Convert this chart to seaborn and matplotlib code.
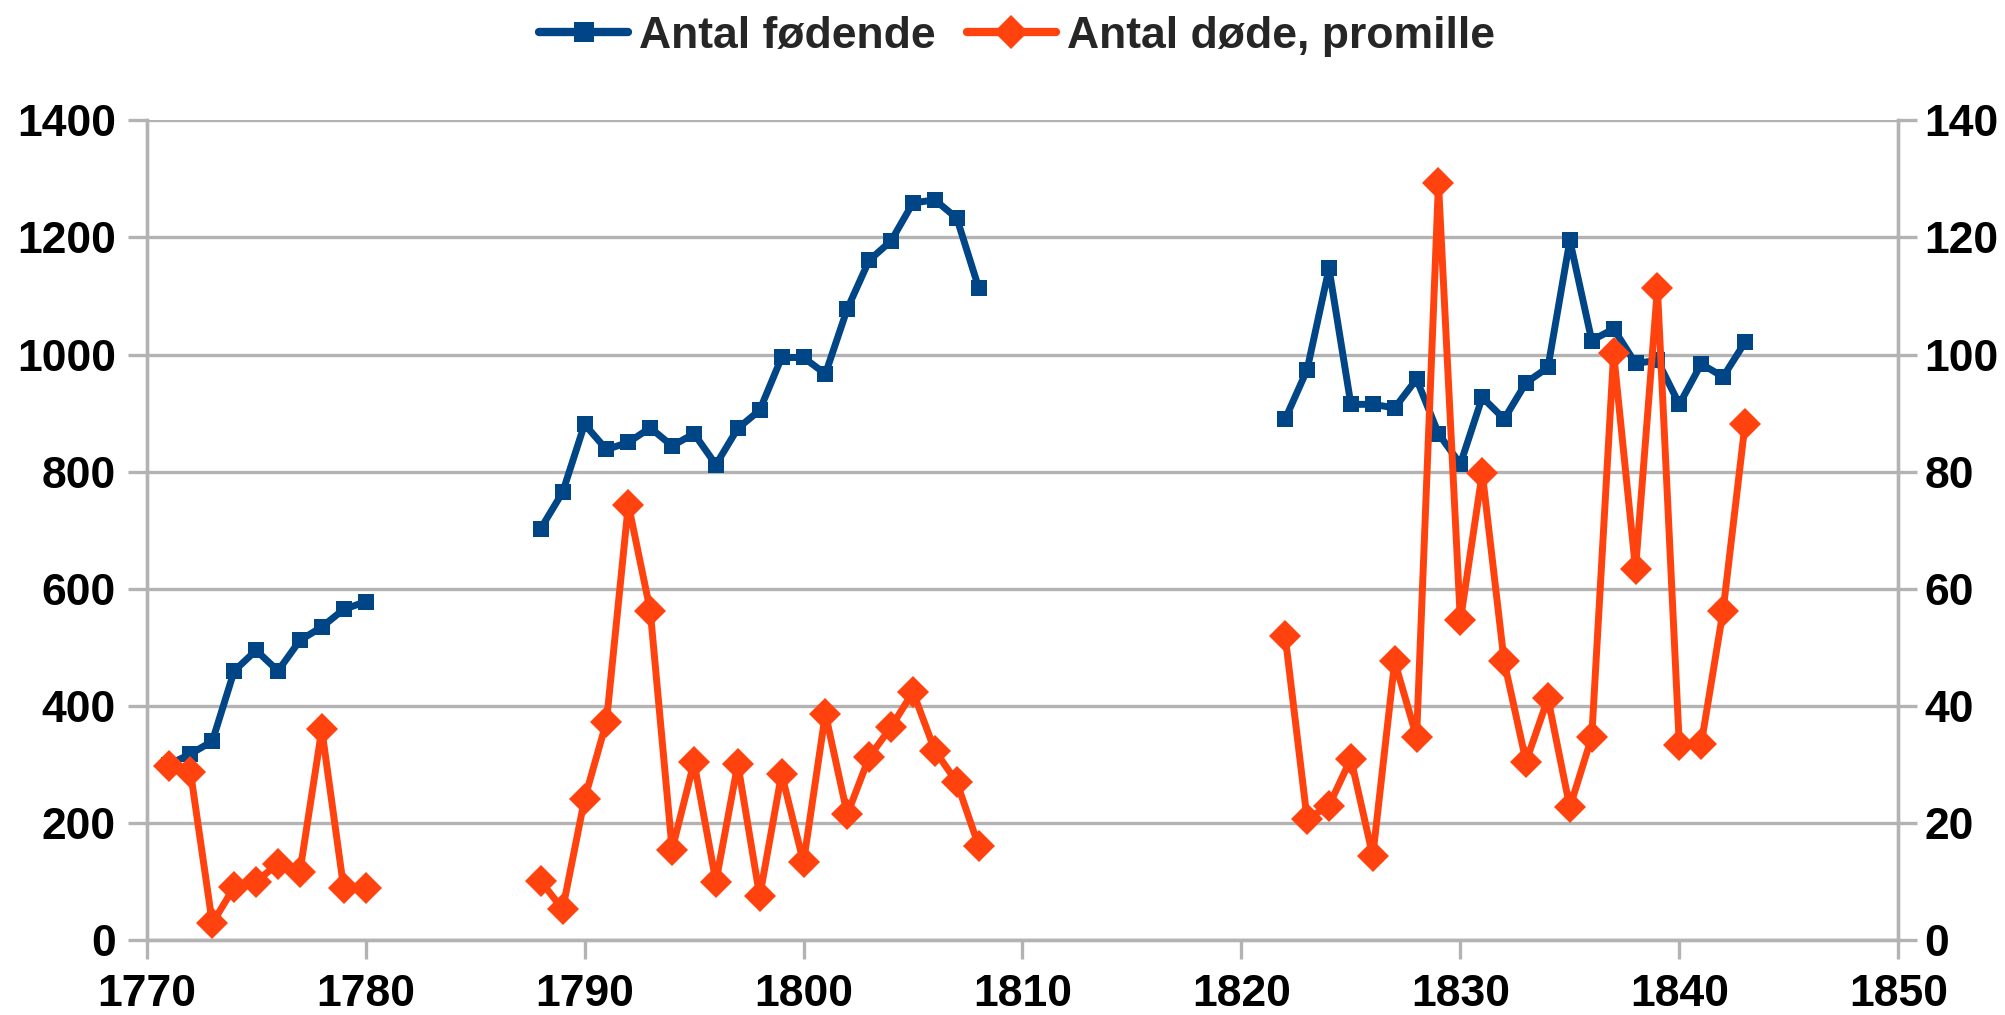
import pandas as pd
import matplotlib
matplotlib.use("Agg")
import matplotlib.pyplot as plt
import seaborn as sns
from matplotlib.lines import Line2D

# years per segment (gaps between segments)
aar_a = [1771, 1772, 1773, 1774, 1775, 1776, 1777, 1778, 1779, 1780]
aar_b = [1788, 1789, 1790, 1791, 1792, 1793, 1794, 1795, 1796, 1797, 1798,
         1799, 1800, 1801, 1802, 1803, 1804, 1805, 1806, 1807, 1808]
aar_c = [1822, 1823, 1824, 1825, 1826, 1827, 1828, 1829, 1830, 1831, 1832,
         1833, 1834, 1835, 1836, 1837, 1838, 1839, 1840, 1841, 1842, 1843]

# Antal fødende (left axis)
fod_a = [300, 318, 340, 460, 495, 460, 512, 535, 565, 578]
fod_b = [703, 765, 881, 838, 850, 875, 844, 865, 812, 874, 905,
         995, 995, 967, 1078, 1161, 1194, 1259, 1264, 1233, 1114]
fod_c = [890, 974, 1147, 915, 915, 909, 958, 865, 813, 927, 890,
         952, 978, 1195, 1024, 1044, 985, 990, 915, 984, 962, 1021]

# Antal døde, promille (right axis)
dod_a = [29.7, 28.8, 2.9, 9.1, 10.0, 13.1, 11.7, 36.0, 8.9, 8.9]
dod_b = [10.1, 5.3, 24.1, 37.3, 74.4, 56.3, 15.5, 30.4, 10.0, 30.1, 7.5,
         28.4, 13.3, 38.7, 21.5, 31.3, 36.4, 42.4, 32.4, 27.0, 16.1]
dod_c = [51.9, 20.7, 23.0, 31.0, 14.4, 47.6, 34.7, 129.3, 54.6, 79.8, 47.6,
         30.5, 41.3, 22.7, 34.7, 100.2, 63.4, 111.3, 33.3, 33.5, 56.3, 88.1]

label_fod = "Antal fødende"
label_dod = "Antal døde, promille"
blaa = "#004586"
roed = "#ff420e"
graa = "#b3b3b3"

df = pd.DataFrame({
    "aar": aar_a + aar_b + aar_c,
    "fod": fod_a + fod_b + fod_c,
    "dod": dod_a + dod_b + dod_c,
    "seg": ["a"] * len(aar_a) + ["b"] * len(aar_b) + ["c"] * len(aar_c),
})

sns.set_theme(style="white")
plt.rcParams["font.family"] = ["Liberation Sans", "DejaVu Sans"]
plt.rcParams["font.weight"] = "bold"

fig = plt.figure(figsize=(20.06, 10.15), dpi=100)
ax = fig.add_axes([0.0731, 0.0736, 0.9463 - 0.0731, 0.8815 - 0.0736])
ax2 = ax.twinx()

lw = 5.0
sns.lineplot(data=df, x="aar", y="fod", units="seg", estimator=None, ax=ax,
             color=blaa, linewidth=lw, marker="s", markersize=12,
             markeredgewidth=0)
sns.lineplot(data=df, x="aar", y="dod", units="seg", estimator=None, ax=ax2,
             color=roed, linewidth=lw, marker="D", markersize=16,
             markeredgewidth=0)

ax.set_xlim(1770, 1850)
ax.set_ylim(0, 1400)
ax2.set_ylim(0, 140)
ax.set_xticks(range(1770, 1851, 10))
ax.set_yticks(range(0, 1401, 200))
ax2.set_yticks(range(0, 141, 20))
ax.set_xlabel("")
ax.set_ylabel("")
ax2.set_ylabel("")

ax.set_axisbelow(True)
ax.yaxis.grid(True, color=graa, linewidth=2.4)
ax.xaxis.grid(False)
ax2.grid(False)

for a in (ax, ax2):
    for s in a.spines.values():
        s.set_color(graa)
        s.set_linewidth(2.4)
    a.spines["top"].set_visible(False)

ax.tick_params(axis="both", colors=graa, labelcolor="black", length=14,
               width=2.4, labelsize=32, direction="out")
ax.tick_params(axis="y", pad=8, left=True)
ax.tick_params(axis="x", pad=10, bottom=True)
ax2.tick_params(axis="y", colors=graa, labelcolor="black", length=14,
                width=2.4, labelsize=32, pad=5, right=True, direction="out")

handles = [
    Line2D([], [], color=blaa, linewidth=lw + 1, marker="s", markersize=14,
           markeredgewidth=0),
    Line2D([], [], color=roed, linewidth=lw + 1, marker="D", markersize=17,
           markeredgewidth=0),
]
fig.legend(handles, [label_fod, label_dod], loc="center",
           bbox_to_anchor=(0.507, 0.964), ncol=2, frameon=False,
           fontsize=32, handlelength=2.0, handletextpad=0.25,
           columnspacing=0.7)

fig.savefig("out.png", dpi=100)
